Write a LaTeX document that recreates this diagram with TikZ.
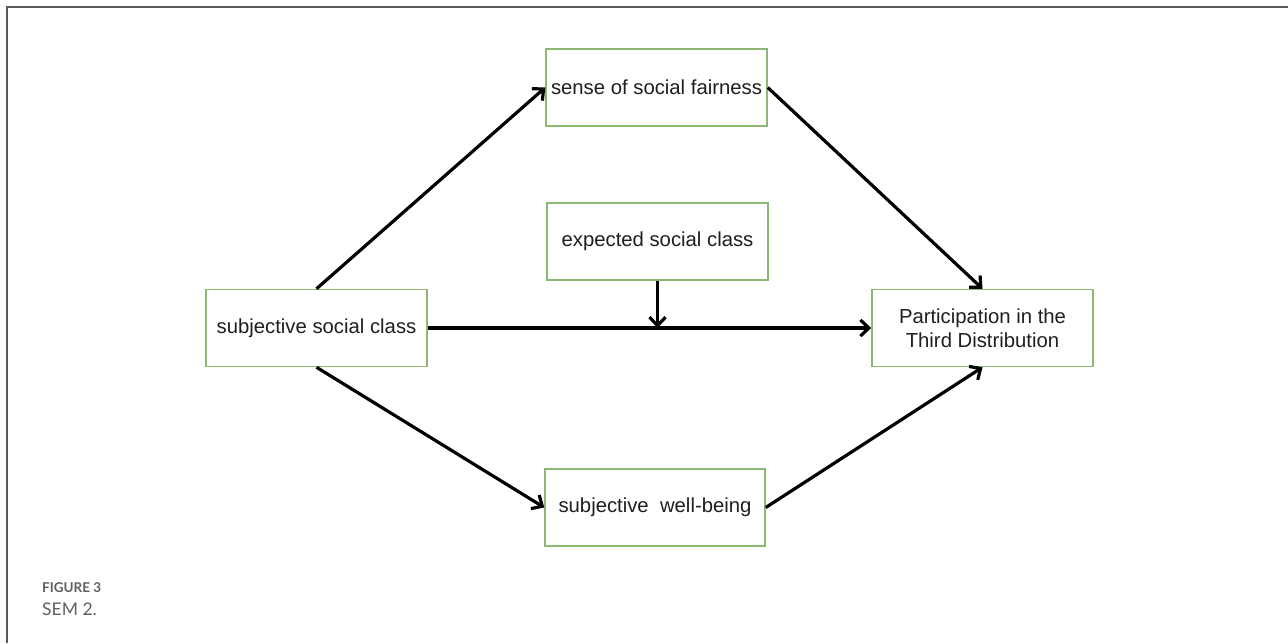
\documentclass[tikz,border=0pt]{standalone}
\usepackage{fontspec}
\setmainfont{Liberation Sans}
\newfontfamily\capfont{Lato}
\usetikzlibrary{arrows.meta}
\definecolor{boxgreen}{HTML}{8DB873}
\definecolor{framegray}{HTML}{5A5A5A}
\definecolor{capgray}{HTML}{5F5F5F}
\tikzset{
  varbox/.style={draw=boxgreen, line width=1.5pt, fill=white, minimum width=221pt, minimum height=77pt, inner sep=0pt, align=center, font=\fontsize{20.3}{23.5}\selectfont, text=black!88},
  path/.style={line width=3.2pt, black, -{Straight Barb[length=8.5pt,width=16pt,line width=3.2pt]}},
}
\begin{document}
\begin{tikzpicture}[x=1pt,y=-1pt]
\useasboundingbox (0,0) rectangle (1288,643);
% frame
\draw[framegray, line width=2pt] (1288,7) -- (7,7) -- (7,643);
% nodes
\node[varbox] (ssc) at (316.5,328) {subjective social class};
\node[varbox] (fair) at (656.5,87.5) {sense of social fairness};
\node[varbox] (exp) at (657.5,241.5) {expected social class};
\node[varbox] (part) at (982.5,328) {Participation in the\\Third Distribution};
\node[varbox, minimum width=220pt] (swb) at (655,507.5) {subjective\ \ well-being};
\coordinate (mid) at (exp.south |- ssc.east);
% connectors
\draw[path] (ssc.north) -- (fair.west);
\draw[path] (fair.east) -- (part.north);
\draw[path] (ssc.east) -- (part.west);
\draw[path] (ssc.south) -- (swb.west);
\draw[path] (swb.east) -- (part.south);
\draw[path] (exp.south) -- (mid);
% caption
\node[anchor=base west, inner sep=0pt, text=capgray, font=\capfont\bfseries\fontsize{13.5}{15}\selectfont] (figlabel) at (42,592) {FIGURE 3};
\node[anchor=base west, inner sep=0pt, text=capgray, font=\capfont\fontsize{17.5}{20}\selectfont] (figtitle) at (42,615) {SEM 2.};
\end{tikzpicture}
\end{document}
